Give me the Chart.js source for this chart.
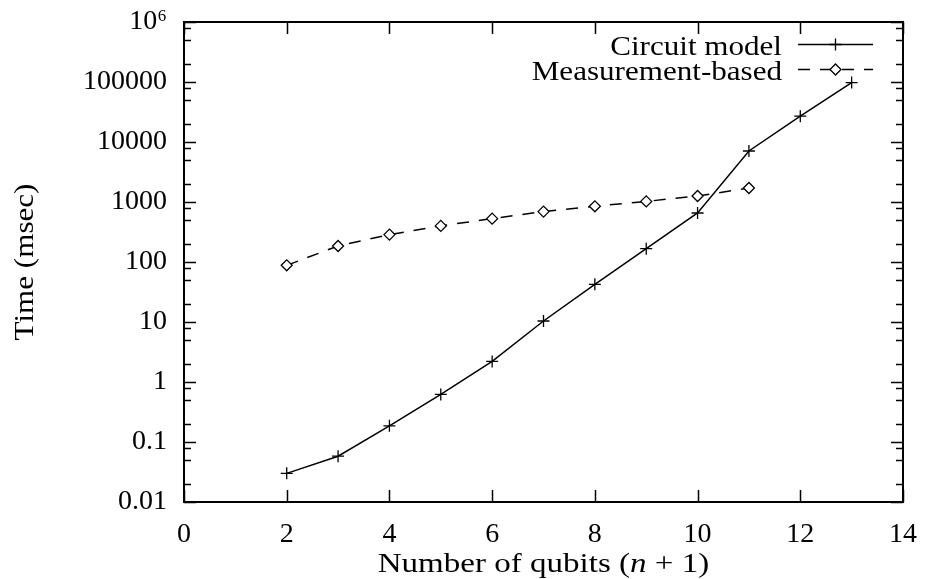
<!DOCTYPE html>
<html><head><meta charset="utf-8">
<script src="https://cdn.jsdelivr.net/npm/chart.js@4.4.0/dist/chart.umd.min.js"></script>
<style>html,body{margin:0;padding:0;background:#fff;}#wrap{width:926px;height:579px;position:relative;}</style>
</head><body><div id="wrap"><canvas id="c" width="926" height="579"></canvas></div>
<script>
const qubitsCircuit = [2, 3, 4, 5, 6, 7, 8, 9, 10, 11, 12, 13];
const timeCircuit = [0.030, 0.058, 0.186, 0.62, 2.2, 10.4, 42.5, 167, 656, 7080, 26900, 97700];
const qubitsMeasurement = [2, 3, 4, 5, 6, 7, 8, 9, 10, 11];
const timeMeasurement = [88, 185, 286, 400, 528, 692, 848, 1023, 1259, 1711];
const seriesLabels = ['Circuit model', 'Measurement-based'];
const xTickValues = [0, 2, 4, 6, 8, 10, 12, 14];
const yTickValues = [0.01, 0.1, 1, 10, 100, 1000, 10000, 100000, 1000000];
const yTickLabels = ['0.01', '0.1', '1', '10', '100', '1000', '10000', '100000', '10⁶'];
const yMinorFactors = [2, 5, 8];
const xAxisTitleParts = [['Number of qubits (', false], ['n', true], [' + 1)', false]];
const yAxisTitle = 'Time (msec)';

const FONT = '"Liberation Serif", "DejaVu Serif", serif';
const FS = 28;
const SX = 1.11;
const SX_XTITLE = 1.18;
const TARGET = { left: 184, top: 22, right: 903, bottom: 502 };

function toPoints(xs, ys) { return xs.map((x, i) => ({ x: x, y: ys[i] })); }

function scaledText(ctx, text, x, y, align, sx) {
  ctx.save(); ctx.translate(x, y); ctx.scale(sx, 1);
  ctx.textAlign = align; ctx.textBaseline = 'alphabetic';
  ctx.fillText(text, 0, 0); ctx.restore();
}

function drawMarker(ctx, style, x, y) {
  ctx.save();
  ctx.strokeStyle = '#000'; ctx.lineWidth = 1.3; ctx.setLineDash([]);
  ctx.beginPath();
  if (style === 'cross') {
    ctx.moveTo(x - 6, y); ctx.lineTo(x + 6, y);
    ctx.moveTo(x, y - 6); ctx.lineTo(x, y + 6);
    ctx.stroke();
  } else {
    const r = 5.5;
    ctx.moveTo(x, y - r); ctx.lineTo(x + r, y); ctx.lineTo(x, y + r); ctx.lineTo(x - r, y); ctx.closePath();
    ctx.fillStyle = '#fff'; ctx.fill(); ctx.stroke();
  }
  ctx.restore();
}

const framePlugin = {
  id: 'frame',
  beforeDatasetsDraw(chart) {
    const ctx = chart.ctx, a = chart.chartArea, xs = chart.scales.x, ys = chart.scales.y;
    ctx.save();
    ctx.strokeStyle = '#000';
    ctx.lineWidth = 1.5;
    ctx.beginPath();
    xTickValues.forEach(v => {
      const p = Math.round(xs.getPixelForValue(v)) + 0.5;
      ctx.moveTo(p, a.bottom); ctx.lineTo(p, a.bottom - 12);
      ctx.moveTo(p, a.top); ctx.lineTo(p, a.top + 12);
    });
    yTickValues.forEach((v, i) => {
      const p = Math.round(ys.getPixelForValue(v)) + 0.5;
      ctx.moveTo(a.left, p); ctx.lineTo(a.left + 12, p);
      ctx.moveTo(a.right, p); ctx.lineTo(a.right - 12, p);
      if (i < yTickValues.length - 1) {
        yMinorFactors.forEach(f => {
          const q = Math.round(ys.getPixelForValue(v * f)) + 0.5;
          ctx.moveTo(a.left, q); ctx.lineTo(a.left + 7, q);
          ctx.moveTo(a.right, q); ctx.lineTo(a.right - 7, q);
        });
      }
    });
    ctx.stroke();
    ctx.lineWidth = 2;
    ctx.strokeRect(a.left, a.top, a.right - a.left, a.bottom - a.top);
    ctx.restore();
  },
  afterDraw(chart) {
    const ctx = chart.ctx, a = chart.chartArea;
    ctx.save();
    ctx.fillStyle = '#000';
    ctx.font = FS + 'px ' + FONT;
    const legendY = [44.5, 69.5];
    chart.data.datasets.forEach((ds, i) => {
      const y = legendY[i];
      scaledText(ctx, ds.label, 782, y + 10.5, 'right', SX);
      ctx.save();
      ctx.strokeStyle = '#000'; ctx.lineWidth = ds.borderWidth;
      ctx.setLineDash(ds.borderDash || []);
      ctx.beginPath(); ctx.moveTo(798, y); ctx.lineTo(873, y); ctx.stroke();
      ctx.restore();
      drawMarker(ctx, ds.pointStyle, 835.5, y);
    });
    ctx.save();
    ctx.translate(33, (a.top + a.bottom) / 2);
    ctx.rotate(-Math.PI / 2);
    ctx.scale(SX, 1);
    ctx.textAlign = 'center'; ctx.textBaseline = 'alphabetic';
    ctx.fillText(yAxisTitle, 0, 0);
    ctx.restore();
    const fonts = xAxisTitleParts.map(p => (p[1] ? 'italic ' : '') + FS + 'px ' + FONT);
    let total = 0;
    const widths = xAxisTitleParts.map((p, i) => { ctx.font = fonts[i]; const w = ctx.measureText(p[0]).width; total += w; return w; });
    let x = (a.left + a.right) / 2 - total * SX_XTITLE / 2;
    xAxisTitleParts.forEach((p, i) => {
      ctx.font = fonts[i];
      scaledText(ctx, p[0], x, 572, 'left', SX_XTITLE);
      x += widths[i] * SX_XTITLE;
    });
    ctx.restore();
  }
};

const chart = new Chart(document.getElementById('c'), {
  type: 'line',
  data: {
    datasets: [
      {
        label: seriesLabels[0],
        data: toPoints(qubitsCircuit, timeCircuit),
        borderColor: '#000', borderWidth: 1.5,
        pointStyle: 'cross', pointRadius: 6, pointBorderWidth: 1.3,
        pointBorderColor: '#000', pointHoverRadius: 6,
        fill: false, tension: 0
      },
      {
        label: seriesLabels[1],
        data: toPoints(qubitsMeasurement, timeMeasurement),
        borderColor: '#000', borderWidth: 1.5, borderDash: [12, 10],
        pointStyle: 'rectRot', pointRadius: 5.5, pointBorderWidth: 1.3,
        pointBorderColor: '#000', pointBackgroundColor: '#fff', pointHoverRadius: 5.5,
        fill: false, tension: 0
      }
    ]
  },
  options: {
    responsive: false,
    animation: false,
    devicePixelRatio: 1,
    layout: { padding: { top: TARGET.top, right: 926 - TARGET.right, left: 0, bottom: 0 } },
    plugins: { legend: { display: false }, tooltip: { enabled: false }, title: { display: false } },
    scales: {
      x: {
        type: 'linear', min: 0, max: 14,
        grid: { display: false, drawTicks: false },
        border: { display: false },
        ticks: { stepSize: 2, color: '#000', padding: 16, maxRotation: 0,
          font: { family: FONT, size: FS, lineHeight: 1.2 } },
        afterBuildTicks: (s) => { s.ticks = xTickValues.map(v => ({ value: v })); },
        afterFit: (s) => { s.height = 579 - TARGET.bottom; s.paddingLeft = 0; s.paddingRight = 0; }
      },
      y: {
        type: 'logarithmic', min: 0.01, max: 1000000,
        grid: { display: false, drawTicks: false },
        border: { display: false },
        ticks: { color: '#000', padding: 17,
          font: { family: FONT, size: FS, lineHeight: 1.2 },
          callback: function (v) { const i = yTickValues.indexOf(v); return i >= 0 ? yTickLabels[i] : ''; } },
        afterBuildTicks: (s) => { s.ticks = yTickValues.map(v => ({ value: v })); },
        afterFit: (s) => { s.width = TARGET.left; s.paddingTop = 0; s.paddingBottom = 0; }
      }
    }
  },
  plugins: [framePlugin]
});
</script>
</body></html>
